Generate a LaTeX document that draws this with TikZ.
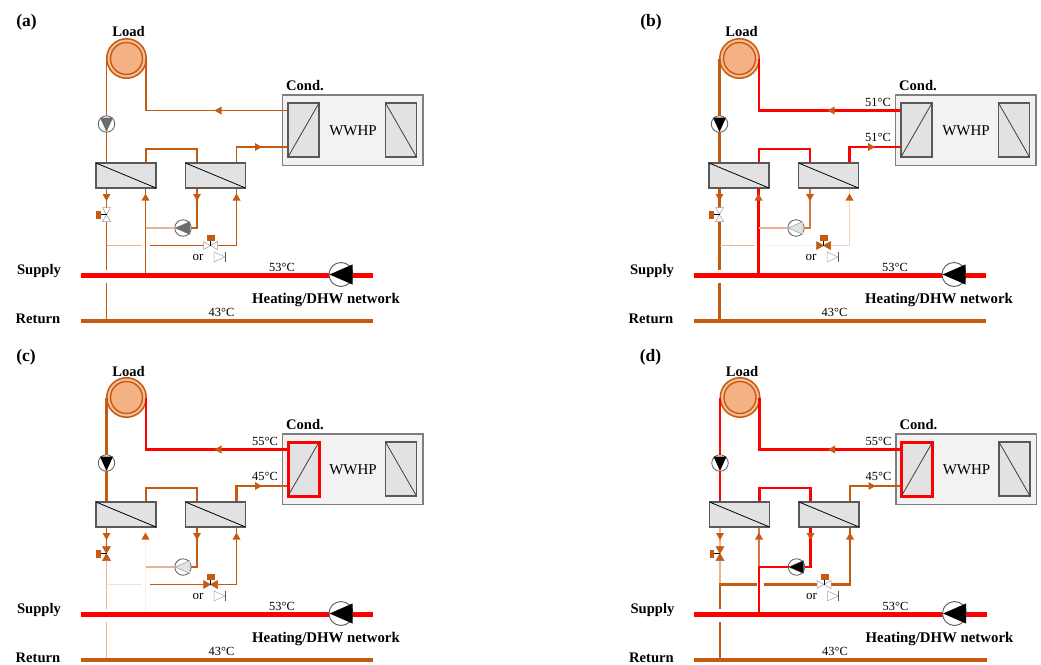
\documentclass[tikz,border=0pt]{standalone}
\usepackage{fontspec}
\setmainfont{Liberation Serif}
\definecolor{pipeor}{HTML}{C55A11}
\definecolor{coilf}{HTML}{F4B183}
\definecolor{faintor}{HTML}{E9B48E}
\definecolor{vfaintor}{HTML}{FAEFE7}
\definecolor{hxf}{HTML}{E2E2E2}
\definecolor{hxd}{HTML}{595959}
\definecolor{boxf}{HTML}{F2F2F2}
\definecolor{boxd}{HTML}{7F7F7F}
\tikzset{
  pthin/.style={draw=pipeor,line width=1.5pt},
  pthick/.style={draw=pipeor,line width=2.8pt},
  pred/.style={draw=red,line width=2.8pt},
  pfaint/.style={draw=faintor,line width=1.3pt},
  plight/.style={draw=faintor,line width=1.8pt},
  pvf/.style={draw=vfaintor,line width=1.3pt},
  hxbox/.style={draw=hxd,fill=hxf,line width=1.1pt,minimum width=60pt,minimum height=25pt,inner sep=0pt,outer sep=0pt},
  vhx/.style={draw=hxd,fill=hxf,line width=1.1pt,minimum width=31pt,minimum height=54pt,inner sep=0pt,outer sep=0pt},
  pumpc/.style={circle,draw=hxd,fill=white,line width=.8pt,minimum size=16.5pt,inner sep=0pt,outer sep=0pt},
  bigpump/.style={circle,draw=hxd,fill=white,line width=.9pt,minimum size=24pt,inner sep=0pt,outer sep=0pt},
  lab/.style={font=\bfseries\fontsize{14.6}{16}\selectfont,inner sep=0pt},
  tagl/.style={font=\bfseries\fontsize{17.5}{19}\selectfont,inner sep=0pt},
  tmp/.style={font=\fontsize{12.4}{14}\selectfont,inner sep=0pt},
  vopen/.style={draw=gray!80,fill=white,line width=.5pt},
  vshut/.style={draw=pipeor,fill=pipeor,line width=.5pt},
  tipor/.style={fill=pipeor},
}
\newcommand{\adown}[2]{\fill[tipor] (#1-4,#2-3.5)--(#1+4,#2-3.5)--(#1,#2+3.5)--cycle;}
\newcommand{\aup}[2]{\fill[tipor] (#1-4,#2+3.5)--(#1+4,#2+3.5)--(#1,#2-3.5)--cycle;}
\newcommand{\aleft}[2]{\fill[tipor] (#1+3.5,#2-4)--(#1+3.5,#2+4)--(#1-3.5,#2)--cycle;}
\newcommand{\aright}[2]{\fill[tipor] (#1-3.5,#2-4)--(#1-3.5,#2+4)--(#1+3.5,#2)--cycle;}
\newcommand{\panelbody}{%
  % fixed points
  \coordinate (jcondo) at (288,110.5);
  \coordinate (jcondi) at (288,147);
  \coordinate (jal) at (106.5,163);
  \coordinate (jar) at (146,163);
  \coordinate (jbl) at (197,163);
  \coordinate (jbr) at (236.5,163);
  \coordinate (jalb) at (106.5,188);
  \coordinate (jarb) at (145.5,188);
  \coordinate (jblb) at (197,188);
  \coordinate (jbrb) at (236.5,188);
  \coordinate (jvt) at (106.5,207.5);
  \coordinate (jvb) at (106.5,221.5);
  \coordinate (jx) at (106.5,245.5);
  \coordinate (jgapl) at (142,245.5);
  \coordinate (jgapr) at (150,245.5);
  \coordinate (jvl) at (203.5,245.5);
  \coordinate (jvr) at (217.5,245.5);
  \coordinate (jt) at (145.5,228);
  \coordinate (js) at (145.5,275.5);
  \coordinate (jsupt) at (106.5,270);
  \coordinate (jsupb) at (106.5,283);
  \coordinate (jret) at (106.5,321);
  \coordinate (sl) at (80.5,275.5);
  \coordinate (sr) at (373,275.5);
  \coordinate (rl) at (80.5,321);
  \coordinate (rr) at (373,321);
  % boxes
  \node[draw=boxd,fill=boxf,line width=1.1pt,minimum width=140.5pt,minimum height=70.5pt,inner sep=0pt,outer sep=0pt] (wwhp) at (352.75,130.25) {};
  \node[font=\fontsize{15}{17}\selectfont,inner sep=0pt] (wwhpt) at (353,131) {WWHP};
  % nodes on the pipes
  \node[circle,draw=pipeor,fill=coilf!85!white,line width=1.5pt,minimum size=39.5pt,inner sep=0pt,outer sep=0pt] (loadout) at (126.5,58.5) {};
  \node[circle,draw=pipeor,fill=coilf,line width=1.4pt,minimum size=32pt,inner sep=0pt,outer sep=0pt] (loadin) at (126.5,58.5) {};
  \coordinate (load-w) at (106.5,58.5);
  \coordinate (load-e) at (146,58.5);
  \node[pumpc] (pumpa) at (106.5,124) {};
  \node[pumpc] (pumpb) at (183,228) {};
  % pipes
  \draw[sA] (load-w) -- (pumpa) -- (jal);
  \draw[sB] (load-e) |- (jcondo);
  \draw[sC] (jar) |- (172,149) -| (jbl);
  \draw[sD] (jbr) |- (jcondi);
  \draw[sEa] (jalb) -- (jvt);
  \draw[sEb] (jvb) -- (jx);
  \draw[sF] (jx) -- (jsupt) (jsupb) -- (jret);
  \draw[sG] (jx) -- (jgapl);
  \draw[sH] (jgapr) -- (jvl);
  \draw[sI] (jvr) -| (jbrb);
  \draw[sJ] (js) -- (jt);
  \draw[sK] (jt) -- (jarb);
  \draw[sL] (jt) -- (pumpb);
  \draw[sM] (pumpb) -| (jblb);
  % heat exchangers
  \node[hxbox] (hxa) at (126,175.5) {};
  \node[hxbox] (hxb) at (215.5,175.5) {};
  \draw[black,line width=.8pt] (hxa.north west) -- (hxa.south east);
  \draw[black,line width=.8pt] (hxb.north west) -- (hxb.south east);
  \node[vhx,sCond/.try] (cond) at (303.5,130) {};
  \node[vhx] (evap) at (401,130) {};
  \draw[hxd!70!black,line width=.8pt] (cond.south west) -- (cond.north east);
  \draw[hxd!70!black,line width=.8pt] (evap.north west) -- (evap.south east);
  % supply and return mains
  \draw[draw=pipeor,line width=3.6pt] (rl) -- (rr);
  \draw[draw=red,line width=4.2pt] (sl) -- (sr);
  \node[bigpump] (pumpn) at (341,274.5) {};
  \fill[black] (352.5,264.5) -- (352.5,284.5) -- (329.5,274.5) -- cycle;
  % pump triangles
  \fill[pumpAf] (100,117.5) -- (113,117.5) -- (106.5,132) -- cycle;
  \path[fill=pumpBf,draw=gray!90,line width=.4pt] (190,221.5) -- (190,234.5) -- (175,228) -- cycle;
  % valves
  \draw[vL] (102.5,207.5) -- (110.5,207.5) -- (102.5,221.5) -- (110.5,221.5) -- cycle;
  \draw[black,line width=.7pt] (106.5,214.5) -- (100,214.5);
  \fill[pipeor] (96,211) rectangle (100.5,218.5);
  \draw[vT] (203.5,241.5) -- (203.5,249.5) -- (217.5,241.5) -- (217.5,249.5) -- cycle;
  \draw[black,line width=.7pt] (210.5,245.5) -- (210.5,240);
  \fill[pipeor] (207,235) rectangle (215.3,240.5);
  \path[draw=gray!70,fill=white,line width=.5pt] (214,252) -- (225,257) -- (214,262) -- cycle;
  \draw[hxd,line width=1pt] (225,252) -- (225,262);
  % flow arrows
  \aleft{218}{110.5}
  \aright{258.5}{147}
  \adown{106.5}{197.5}
  \aup{145.5}{197}
  \adown{197}{197.5}
  \aup{236.5}{197}
  % texts
  \node[lab] (tload) at (128.5,32) {Load};
  \node[lab] (tcond) at (305,86) {Cond.};
  \node[lab] (tsup) at (39,271.5) {Supply};
  \node[lab] (tret) at (38,319) {Return};
  \node[lab,font=\bfseries\fontsize{14.8}{16}\selectfont] (tnet) at (326,299.5) {Heating/DHW network};
  \node[tmp] (t53) at (282,267) {53°C};
  \node[tmp] (t43) at (221.5,312.5) {43°C};
  \node[font=\fontsize{13}{15}\selectfont,inner sep=0pt] (tor) at (198,257) {or};
  \node[tmp] (tta) at (265,102.5) {\tempa};
  \node[tmp] (ttb) at (265,137.5) {\tempb};
}
\begin{document}
\begin{tikzpicture}[x=1pt,y=-1pt]
\useasboundingbox (0,0) rectangle (1041,664);
\fill[white] (0,0) rectangle (1041,664);
% (a)
\begin{scope}[name prefix=a-,
  sA/.style={pthin},sB/.style={pthin},sC/.style={pthin},sD/.style={pthin},
  sEa/.style={pthin},sEb/.style={pthin},sF/.style={pthin},sG/.style={pfaint},
  sH/.style={pthin},sI/.style={pthin},sJ/.style={pthin},sK/.style={pthin},
  sL/.style={pfaint},sM/.style={pthin},
  vL/.style={vopen},vT/.style={vopen}]
  \colorlet{pumpAf}{gray!85!black}\colorlet{pumpBf}{gray!85!black}
  \def\tempa{}\def\tempb{}
  \panelbody
  \node[tagl] (tagt) at (26.5,22) {(a)};
\end{scope}
% (b)
\begin{scope}[shift={(613,0)},name prefix=b-,
  sA/.style={pthick},sB/.style={pred},sC/.style={pred},sD/.style={pred},
  sEa/.style={pthick},sEb/.style={pthick},sF/.style={pthick},sG/.style={pfaint},
  sH/.style={pvf},sI/.style={pfaint,draw=faintor!60!white},sJ/.style={pred},sK/.style={pred},
  sL/.style={pfaint},sM/.style={pfaint,draw=pipeor!80!white},
  vL/.style={vopen},vT/.style={vshut}]
  \colorlet{pumpAf}{black}\colorlet{pumpBf}{hxf}
  \def\tempa{51°C}\def\tempb{51°C}
  \panelbody
  \node[tagl] (tagt) at (38,22) {(b)};
\end{scope}
% (c)
\begin{scope}[shift={(0,339)},name prefix=c-,
  sA/.style={pthick},sB/.style={pred},sC/.style={pthick},sD/.style={pthick},
  sEa/.style={pthin},sEb/.style={plight},sF/.style={plight},sG/.style={pvf,draw=faintor!40!white},
  sH/.style={pthin},sI/.style={pthin},sJ/.style={pvf},sK/.style={pvf},
  sL/.style={pfaint},sM/.style={pthin},
  vL/.style={vshut},vT/.style={vshut},
  sCond/.style={draw=red,line width=3pt}]
  \colorlet{pumpAf}{black}\colorlet{pumpBf}{hxf}
  \def\tempa{55°C}\def\tempb{45°C}
  \panelbody
  \node[tagl] (tagt) at (26,18) {(c)};
\end{scope}
% (d)
\begin{scope}[shift={(613.5,339)},name prefix=d-,
  sA/.style={pred},sB/.style={pred},sC/.style={pred},sD/.style={pthick},
  sEa/.style={pfaint},sEb/.style={pfaint},sF/.style={pthick},sG/.style={pthick,line cap=rect},
  sH/.style={pthick},sI/.style={pthick},sJ/.style={pred},sK/.style={pthin,draw=pipeor!80!white},
  sL/.style={pred,line cap=rect},sM/.style={pred},
  vL/.style={vshut},vT/.style={vopen},
  sCond/.style={draw=red,line width=3pt}]
  \colorlet{pumpAf}{black}\colorlet{pumpBf}{black}
  \def\tempa{55°C}\def\tempb{45°C}
  \panelbody
  \node[tagl] (tagt) at (37,18) {(d)};
\end{scope}
\end{tikzpicture}
\end{document}
